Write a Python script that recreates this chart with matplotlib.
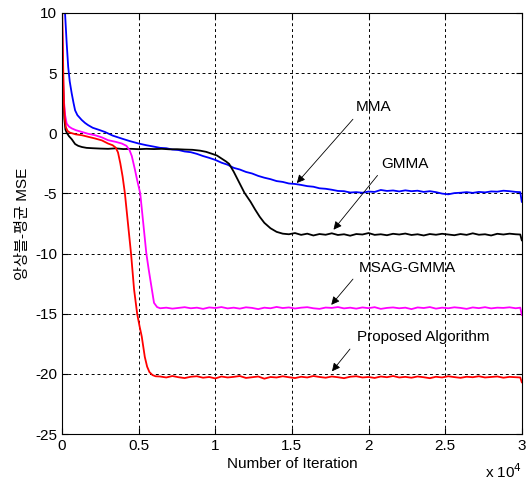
import numpy as np
import matplotlib
matplotlib.use('Agg')
import matplotlib.pyplot as plt

plt.rcParams['font.family'] = ['Liberation Sans', 'Noto Sans CJK KR', 'DejaVu Sans']
plt.rcParams['axes.unicode_minus'] = False

# iterations in units of 1e4, ensemble-average MSE in dB
# MMA (blue)
mma_x_head = [0.015, 0.03, 0.04, 0.05, 0.063, 0.075, 0.085, 0.1, 0.128, 0.15, 0.17, 0.2,
              0.24, 0.28, 0.33, 0.39, 0.44, 0.5, 0.55]
mma_y_head = [11.0, 7.5, 5.5, 4.3, 3.3, 2.5, 1.9, 1.5, 1.1, 0.85, 0.67, 0.45,
              0.28, 0.1, -0.2, -0.45, -0.65, -0.86, -1.0]
mma_y_tail = [-1.12, -1.22, -1.25, -1.36, -1.40, -1.52, -1.58, -1.72, -1.90, -2.05,
              -2.22, -2.45, -2.62, -2.88, -3.02, -3.22, -3.35, -3.55, -3.70, -3.82,
              -3.98, -4.05, -4.18, -4.22, -4.30, -4.40, -4.45, -4.58, -4.62, -4.70,
              -4.80, -4.82, -4.93, -4.90, -4.95, -4.85, -4.88, -4.72, -4.80, -4.76,
              -4.84, -4.75, -4.82, -4.78, -4.88, -4.82, -4.90, -5.02, -5.08, -4.98,
              -4.95, -4.90, -4.96, -4.88, -4.92, -4.84, -4.86, -4.78, -4.82, -4.88]
mma_x_end = [2.99, 3.0]
mma_y_end = [-4.9, -5.7]

# GMMA (black)
gmma_x_head = [0, 0.008, 0.015, 0.022, 0.03, 0.045, 0.063, 0.085, 0.105, 0.13, 0.16, 0.2,
               0.25, 0.3, 0.35, 0.4, 0.45, 0.5, 0.55, 0.6, 0.65, 0.7, 0.75, 0.8, 0.85,
               0.9, 0.94, 0.98, 1.01, 1.04, 1.07, 1.09, 1.12, 1.14, 1.16, 1.19, 1.23,
               1.26, 1.29, 1.32, 1.36, 1.4, 1.44]
gmma_y_head = [7.0, 3.5, 1.2, 0.3, 0.05, -0.25, -0.5, -0.9, -1.05, -1.15, -1.22, -1.25,
               -1.28, -1.3, -1.26, -1.32, -1.3, -1.33, -1.3, -1.32, -1.30, -1.34, -1.33, -1.36, -1.38,
               -1.45, -1.55, -1.72, -1.85, -2.1, -2.35, -2.55, -3.2, -3.7, -4.2, -4.95, -5.7,
               -6.35, -6.95, -7.45, -7.9, -8.2, -8.35]
gmma_y_tail = [-8.40, -8.30, -8.45, -8.35, -8.50, -8.38, -8.44, -8.32, -8.46, -8.40,
               -8.52, -8.38, -8.42, -8.30, -8.45, -8.40, -8.48, -8.36, -8.42, -8.34,
               -8.46, -8.40, -8.50, -8.38, -8.44, -8.36, -8.42, -8.48, -8.38, -8.45,
               -8.32, -8.44, -8.40, -8.50, -8.36, -8.42, -8.35, -8.40]
gmma_x_end = [2.99, 3.0]
gmma_y_end = [-8.42, -8.9]

# MSAG-GMMA (magenta)
msag_x_head = [0, 0.005, 0.01, 0.02, 0.03, 0.045, 0.063, 0.09, 0.13, 0.17, 0.215, 0.26,
               0.3, 0.35, 0.39, 0.42, 0.44, 0.455, 0.475, 0.49, 0.51, 0.53, 0.55, 0.565,
               0.58, 0.6, 0.62, 0.64]
msag_y_head = [9.5, 6.0, 3.0, 1.5, 0.8, 0.55, 0.4, 0.25, 0.1, -0.05, -0.17, -0.35,
               -0.58, -0.72, -0.86, -1.05, -1.4, -1.9, -3.0, -3.9, -5.0, -7.5, -10.0, -11.3,
               -12.5, -14.1, -14.45, -14.55]
msag_y_tail = [-14.50, -14.58, -14.52, -14.46, -14.55, -14.50, -14.60, -14.48, -14.53, -14.45,
               -14.56, -14.50, -14.58, -14.47, -14.52, -14.62, -14.50, -14.55, -14.44, -14.53,
               -14.48, -14.57, -14.50, -14.46, -14.55, -14.60, -14.49, -14.52, -14.45, -14.56,
               -14.50, -14.58, -14.48, -14.54, -14.46, -14.60, -14.52, -14.48, -14.55, -14.50,
               -14.62, -14.48, -14.53, -14.45, -14.58, -14.50, -14.55, -14.47, -14.52, -14.60,
               -14.48, -14.54, -14.46, -14.56, -14.50, -14.52, -14.47, -14.55]
msag_x_end = [2.99, 3.0]
msag_y_end = [-14.5, -15.1]

# Proposed Algorithm (red)
prop_x_head = [0, 0.004, 0.008, 0.012, 0.018, 0.025, 0.035, 0.05, 0.063, 0.09, 0.13, 0.17,
               0.215, 0.26, 0.3, 0.33, 0.35, 0.365, 0.38, 0.395, 0.41, 0.43, 0.45, 0.47,
               0.49, 0.505, 0.52, 0.54, 0.555, 0.57, 0.59, 0.61]
prop_y_head = [10.5, 8.0, 5.0, 2.5, 1.2, 0.5, 0.2, 0.05, 0.0, -0.1, -0.17, -0.3,
               -0.44, -0.6, -0.86, -1.0, -1.2, -1.6, -2.5, -3.6, -5.0, -7.5, -10.0, -13.0,
               -15.0, -16.0, -16.9, -18.6, -19.4, -19.85, -20.1, -20.2]
prop_y_tail = [-20.22, -20.30, -20.18, -20.28, -20.35, -20.24, -20.20, -20.32, -20.26, -20.38,
               -20.22, -20.30, -20.25, -20.18, -20.34, -20.28, -20.22, -20.40, -20.26, -20.30,
               -20.20, -20.28, -20.35, -20.24, -20.30, -20.18, -20.26, -20.32, -20.22, -20.28,
               -20.36, -20.24, -20.20, -20.30, -20.26, -20.34, -20.22, -20.28, -20.18, -20.30,
               -20.25, -20.32, -20.22, -20.28, -20.36, -20.24, -20.30, -20.20, -20.27, -20.33,
               -20.24, -20.28, -20.20, -20.30, -20.26, -20.22, -20.32, -20.25, -20.28]
prop_x_end = [2.99, 3.0]
prop_y_end = [-20.3, -20.7]

x_ticks = [0, 0.5, 1, 1.5, 2, 2.5, 3]
x_tick_labels = ['0', '0.5', '1', '1.5', '2', '2.5', '3']
y_ticks = [-25, -20, -15, -10, -5, 0, 5, 10]


def build(x_head, y_head, tail_start, y_tail, x_end, y_end):
    # tail samples are evenly spaced up to 2.96
    x_tail = np.linspace(tail_start, 2.96, len(y_tail))
    x = np.concatenate([x_head, x_tail, x_end])
    y = np.concatenate([y_head, y_tail, y_end])
    return x, y


mma_x, mma_y = build(mma_x_head, mma_y_head, 0.6, mma_y_tail, mma_x_end, mma_y_end)
gmma_x, gmma_y = build(gmma_x_head, gmma_y_head, 1.48, gmma_y_tail, gmma_x_end, gmma_y_end)
msag_x, msag_y = build(msag_x_head, msag_y_head, 0.68, msag_y_tail, msag_x_end, msag_y_end)
prop_x, prop_y = build(prop_x_head, prop_y_head, 0.64, prop_y_tail, prop_x_end, prop_y_end)

fig = plt.figure(figsize=(5.26, 4.83), dpi=100)
ax = fig.add_axes([0.118, 0.1014, 0.874, 0.872])

ax.plot(mma_x, mma_y, color='#0000ff', lw=1.3)
ax.plot(gmma_x, gmma_y, color='#000000', lw=1.3)
ax.plot(msag_x, msag_y, color='#ff00ff', lw=1.3)
ax.plot(prop_x, prop_y, color='#ff0000', lw=1.3)

ax.set_xlim(0, 3)
ax.set_ylim(-25, 10)
ax.set_xticks(x_ticks)
ax.set_xticklabels(x_tick_labels)
ax.set_yticks(y_ticks)
ax.tick_params(direction='in', top=True, right=True, labelsize=11, length=4)
ax.grid(True, color='black', linestyle=(0, (3, 3)), linewidth=0.7)
for s in ax.spines.values():
    s.set_linewidth(0.8)

ax.set_xlabel('Number of Iteration', fontsize=11, labelpad=3)
ax.set_ylabel('앙상블-평균 MSE', fontsize=11, labelpad=4)
fig.text(0.922, 0.004, 'x 10$^4$', fontsize=11, va='bottom')

# labels with arrows: (text, text pos, arrow tail, arrow tip)
notes = [
    ('MMA', (2.035, 2.16), (1.91, 1.33), (1.52, -4.32)),
    ('GMMA', (2.24, -2.54), (2.07, -3.33), (1.76, -8.2)),
    ('MSAG-GMMA', (2.25, -11.18), (1.91, -11.95), (1.745, -14.44)),
    ('Proposed Algorithm', (2.36, -16.9), (1.89, -17.76), (1.75, -19.97)),
]
for label, tpos, tail, tip in notes:
    ax.text(tpos[0], tpos[1], label, fontsize=11, ha='center', va='center')
    ax.annotate('', xy=tip, xytext=tail,
                arrowprops=dict(arrowstyle='-|>', color='black', lw=0.6, mutation_scale=12))

fig.savefig('out.png', dpi=100)
